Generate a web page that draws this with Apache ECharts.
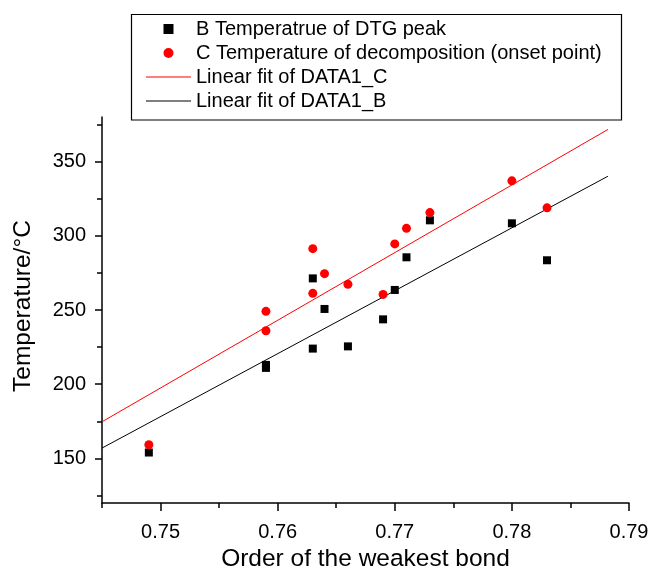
<!DOCTYPE html>
<html>
<head>
<meta charset="utf-8">
<script src="https://cdn.jsdelivr.net/npm/echarts@6/dist/echarts.min.js"></script>
<style>
  html, body { margin: 0; padding: 0; background: #fff; }
  #chart { width: 648px; height: 570px; }
</style>
</head>
<body>
<div id="chart"></div>
<script>
// order of the weakest bond (x) and temperatures
var orderB = [0.749, 0.759, 0.759, 0.763, 0.763, 0.764, 0.766, 0.769, 0.770, 0.771, 0.773, 0.780, 0.783];
var tempB  = [154, 213, 211, 224, 271.3, 250.7, 225.5, 243.7, 263.5, 285.5, 310.4, 308.4, 283.5];
var orderC = [0.749, 0.759, 0.759, 0.763, 0.763, 0.764, 0.766, 0.769, 0.770, 0.771, 0.773, 0.780, 0.783];
var tempC  = [159.2, 249.1, 236, 291.3, 261.2, 274.5, 267.3, 260.5, 294.5, 305, 315.6, 337, 318.8];
// end points of the two fit lines
var fitX = [0.745, 0.7882];
var fitC = [174.7, 371.6];
var fitB = [157.0, 340.1];
// ticks
var xMajor = [0.75, 0.76, 0.77, 0.78, 0.79];
var xMinor = [0.745, 0.755, 0.765, 0.775, 0.785];
var yMajor = [150, 200, 250, 300, 350];
var yMinor = [125, 175, 225, 275, 325, 375];

var nameB = 'B Temperatrue of DTG peak';
var nameC = 'C Temperature of decomposition (onset point)';
var nameFitC = 'Linear fit of DATA1_C';
var nameFitB = 'Linear fit of DATA1_B';

function pairs(xs, ys) {
  var out = [];
  for (var i = 0; i < xs.length; i++) out.push([xs[i], ys[i]]);
  return out;
}

var font = "'Liberation Sans', Arial, sans-serif";
var chart = echarts.init(document.getElementById('chart'));

function xAxisCfg(major) {
  return {
    type: 'value', min: 0.745, max: 0.79, position: 'bottom',
    axisLine: { show: major, lineStyle: { color: '#000', width: 1.5 } },
    axisTick: { show: true, inside: false, length: major ? 8 : 5,
      customValues: major ? xMajor : xMinor, lineStyle: { color: '#000', width: 1.5 } },
    axisLabel: { show: major, customValues: xMajor, margin: 19, color: '#000',
      fontSize: 20, fontFamily: font, formatter: function (v) { return v.toFixed(2); } },
    splitLine: { show: false },
    name: major ? 'Order of the weakest bond' : '',
    nameLocation: 'middle', nameGap: 42,
    nameTextStyle: { fontSize: 24.5, fontFamily: font, color: '#000' }
  };
}
function yAxisCfg(major) {
  return {
    type: 'value', min: 120, max: 380, position: 'left',
    axisLine: { show: major, lineStyle: { color: '#000', width: 1.5 } },
    axisTick: { show: true, inside: false, length: major ? 7 : 5,
      customValues: major ? yMajor : yMinor, lineStyle: { color: '#000', width: 1.5 } },
    axisLabel: { show: major, customValues: yMajor, margin: 16, color: '#000',
      fontSize: 20, fontFamily: font },
    splitLine: { show: false },
    name: major ? 'Temperature/°C' : '',
    nameLocation: 'middle', nameGap: 66,
    nameTextStyle: { fontSize: 24.5, fontFamily: font, color: '#000', padding: [0, 0, 0, 8] }
  };
}

chart.setOption({
  animation: false,
  backgroundColor: '#fff',
  grid: { left: 102, right: 19, top: 117, bottom: 67, outerBoundsMode: 'none' },
  xAxis: [xAxisCfg(true), xAxisCfg(false)],
  yAxis: [yAxisCfg(true), yAxisCfg(false)],
  graphic: [{
    type: 'rect', silent: true,
    shape: { x: 131.5, y: 14.5, width: 490, height: 105.5 },
    style: { fill: 'none', stroke: '#000', lineWidth: 1.2 }
  }],
  legend: {
    orient: 'vertical', left: 146, top: 19, padding: 0,
    itemWidth: 45, itemHeight: 10, itemGap: 4,
    textStyle: { fontSize: 20, fontFamily: font, color: '#000' },
    data: [
      { name: nameB, icon: 'path://M0 0H10V10H0Z' },
      { name: nameC, icon: 'circle' },
      { name: nameFitC, icon: 'path://M0 0H45V1H0Z' },
      { name: nameFitB, icon: 'path://M0 0H45V1H0Z' }
    ]
  },
  series: [
    { name: nameFitC, type: 'line', data: pairs(fitX, fitC), symbol: 'none',
      lineStyle: { color: '#ff0000', width: 1 }, itemStyle: { color: '#ff0000' }, z: 1 },
    { name: nameFitB, type: 'line', data: pairs(fitX, fitB), symbol: 'none',
      lineStyle: { color: '#000', width: 1 }, itemStyle: { color: '#000' }, z: 1 },
    { name: nameB, type: 'scatter', data: pairs(orderB, tempB), symbol: 'rect',
      symbolSize: 8, itemStyle: { color: '#000', opacity: 1 }, z: 2 },
    { name: nameC, type: 'scatter', data: pairs(orderC, tempC), symbol: 'circle',
      symbolSize: 9, itemStyle: { color: '#ff0000', opacity: 1 }, z: 3 }
  ]
});
</script>
</body>
</html>
